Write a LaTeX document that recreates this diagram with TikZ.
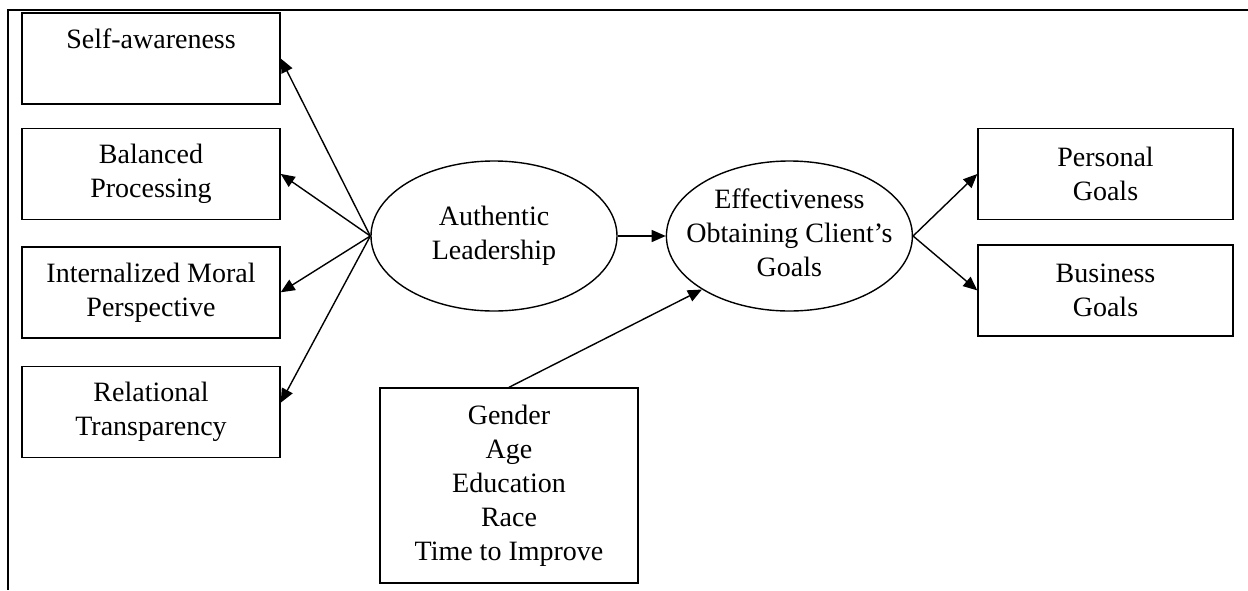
\documentclass[tikz,border=0pt]{standalone}
\usepackage{fontspec}
\setmainfont{Liberation Serif}
\usetikzlibrary{positioning,shapes.geometric,arrows.meta}

\newcommand{\ovaltext}[1]{\makebox[0pt]{\begin{tabular}{@{}c@{}}#1\end{tabular}}}

\begin{document}
\begin{tikzpicture}[x=1pt, y=-1pt, line width=1.4pt,
    >={Triangle[length=14pt,width=12pt]},
    font=\fontsize{28}{34}\selectfont,
    box/.style={draw, rectangle, align=center, inner sep=0pt, minimum width=258pt, minimum height=91pt},
    oval/.style={draw, ellipse, inner sep=0pt, minimum width=246pt, minimum height=150pt}]
    \useasboundingbox (0,0) rectangle (1248,590);
    % Frame
    \draw[line width=2.8pt] (1248,10) -- (8,10) -- (8,590);
    % Nodes
    \node [box] (aware) at (151,58.5) {\strut Self-awareness\\ \strut};
    \node [box, below=23pt of aware] (balanced) {Balanced\\Processing};
    \node [box, below=26pt of balanced] (moral) {Internalized Moral\\Perspective};
    \node [box, below=27pt of moral] (relational) {Relational\\Transparency};
    \node [oval] (auth) at (494,236) {\ovaltext{Authentic\\Leadership}};
    \node [oval, right=48pt of auth] (effect) {\ovaltext{Effectiveness\\Obtaining Client’s\\Goals}};
    \node [box, minimum width=255pt] (personal) at (1105.5,174) {Personal\\Goals};
    \node [box, minimum width=255pt, below=24pt of personal] (business) {Business\\Goals};
    \node [box, minimum height=195pt] (demog) at (509,485.5) {Gender\\Age\\Education\\Race\\Time to Improve};
    % Arrows
    \draw[->] (auth.west) -- (aware.east);
    \draw[->] (auth.west) -- (balanced.east);
    \draw[->] (auth.west) -- (moral.east);
    \draw[->] (auth.west) -- ([yshift=9pt]relational.east);
    \draw[->] (auth) -- (effect);
    \draw[->] (effect.east) -- (personal.west);
    \draw[->] (effect.east) -- (business.west);
    \draw[->] (demog.north) -- (effect.south west);
\end{tikzpicture}
\end{document}
